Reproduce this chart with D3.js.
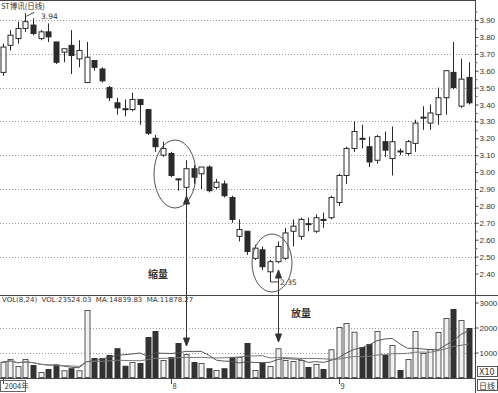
<!DOCTYPE html>
<html><head><meta charset="utf-8">
<script src="https://cdn.jsdelivr.net/npm/d3@7/dist/d3.min.js"></script>
<style>body{margin:0;background:#fff}svg{display:block;font-family:"DejaVu Sans",sans-serif}</style>
</head><body><svg id="c" width="498" height="393"></svg>
<script>
// ---- data ----
const opens  = [3.59,3.75,3.79,3.85,3.87,3.79,3.83,3.77,3.71,3.75,3.67,3.53,3.66,3.61,3.50,3.41,3.375,3.37,3.43,3.37,3.20,3.10,3.11,2.96,2.91,3.02,2.99,3.03,2.91,2.93,2.85,2.62,2.65,2.49,2.54,2.41,2.47,2.49,2.65,2.62,2.695,2.65,2.72,2.73,2.82,2.98,3.14,3.20,3.15,3.07,3.18,3.08,3.125,3.11,3.17,3.32,3.29,3.34,3.44,3.59,3.39,3.56];
const highs  = [3.76,3.84,3.89,3.94,3.91,3.84,3.88,3.77,3.73,3.84,3.78,3.77,3.66,3.62,3.51,3.44,3.43,3.47,3.43,3.37,3.22,3.18,3.12,2.96,3.07,3.04,3.03,3.04,2.96,2.95,2.86,2.72,2.65,2.57,2.56,2.48,2.59,2.67,2.72,2.73,2.73,2.75,2.76,2.86,2.99,3.15,3.30,3.28,3.21,3.22,3.24,3.27,3.14,3.19,3.31,3.39,3.40,3.50,3.60,3.77,3.67,3.65];
const lows   = [3.57,3.72,3.76,3.83,3.81,3.78,3.77,3.64,3.65,3.58,3.62,3.53,3.60,3.53,3.42,3.34,3.33,3.36,3.28,3.22,3.12,3.09,2.97,2.89,2.85,2.93,2.90,2.88,2.90,2.85,2.70,2.59,2.51,2.48,2.42,2.35,2.46,2.48,2.56,2.60,2.65,2.64,2.67,2.72,2.80,2.93,3.12,3.14,3.03,3.05,3.09,2.98,3.10,3.10,3.12,3.25,3.25,3.28,3.34,3.49,3.38,3.40];
const closes = [3.74,3.81,3.85,3.89,3.82,3.83,3.80,3.65,3.73,3.69,3.72,3.68,3.62,3.54,3.44,3.38,3.37,3.43,3.40,3.23,3.15,3.14,2.98,2.955,3.02,2.97,3.03,2.89,2.94,2.86,2.72,2.66,2.53,2.55,2.44,2.47,2.56,2.64,2.68,2.72,2.69,2.73,2.715,2.85,2.98,3.14,3.24,3.195,3.06,3.21,3.13,3.18,3.12,3.18,3.29,3.325,3.35,3.44,3.60,3.50,3.55,3.41];
const volumes = [610,720,440,720,480,200,320,500,270,350,270,2680,760,760,880,1150,450,600,560,1600,1840,680,800,1360,920,600,560,350,280,350,800,800,1360,280,560,440,1150,680,640,680,400,520,320,1110,2000,2160,1810,1200,1320,1840,880,1280,280,720,1840,960,1120,1800,2360,2720,2280,1960];
const priceTicks = ["2.40","2.50","2.60","2.70","2.80","2.90","3.00","3.10","3.20","3.30","3.40","3.50","3.60","3.70","3.80","3.90"];
const gridPrices = [2.50,2.70,2.90,3.10,3.30,3.50,3.70,3.90];
const volTicks = [1000,2000,3000];
const monthLabels = [{i:0,t:"2004年"},{i:22,t:"8"},{i:44,t:"9"}];
const title = "ST博讯(日线)";
const volText = "VOL(8,24)  VOL:23524.03  MA:14839.83  MA:11878.27";

const svg = d3.select("#c");
const idx = d3.range(opens.length);
const x = d3.scalePoint().domain(idx).range([2.5, 468.7]);
const y = d3.scaleLinear().domain([2.40, 3.90]).range([273.5, 20]);
const yv = d3.scaleLinear().domain([0, 3000]).range([377.5, 302.5]);
const AX = 475.5;
const ink = "#2a2a2a";

// frame lines
const frame = svg.append("g").attr("stroke", "#444").attr("stroke-width", 1);
frame.append("line").attr("x1",0).attr("x2",AX).attr("y1",0.5).attr("y2",0.5);
frame.append("line").attr("x1",AX).attr("x2",AX).attr("y1",0).attr("y2",393);
frame.append("line").attr("x1",0).attr("x2",498).attr("y1",295.5).attr("y2",295.5);
frame.append("line").attr("x1",0).attr("x2",AX).attr("y1",378.5).attr("y2",378.5);

// grid
svg.append("g").selectAll("line").data(gridPrices).join("line")
  .attr("x1",0).attr("x2",AX).attr("y1",d=>Math.round(y(d))+0.5).attr("y2",d=>Math.round(y(d))+0.5)
  .attr("stroke","#999").attr("stroke-dasharray","1,2");
svg.append("g").selectAll("line").data([1000,2000]).join("line")
  .attr("x1",0).attr("x2",AX).attr("y1",d=>Math.round(yv(d))+0.5).attr("y2",d=>Math.round(yv(d))+0.5)
  .attr("stroke","#999").attr("stroke-dasharray","1,2");

// right price axis
const pAxis = d3.axisRight(y).tickValues(priceTicks.map(Number)).tickFormat(d3.format(".2f")).tickSize(3);
const gp = svg.append("g").attr("transform",`translate(${AX},0)`).call(pAxis);
gp.select(".domain").remove();
gp.selectAll("text").attr("font-size",8).attr("fill","#333").attr("x",4);
gp.selectAll("line").attr("stroke","#444");
const minor = d3.axisRight(y).tickValues(priceTicks.map(d=>+d+0.05).filter(d=>d<3.95)).tickFormat("").tickSize(2);
svg.append("g").attr("transform",`translate(${AX},0)`).call(minor).call(g=>g.select(".domain").remove()).selectAll("line").attr("stroke","#666");

// volume axis
const vAxis = d3.axisRight(yv).tickValues(volTicks).tickFormat(d3.format("d")).tickSize(3);
const gv = svg.append("g").attr("transform",`translate(${AX},0)`).call(vAxis);
gv.select(".domain").remove();
gv.selectAll("text").attr("font-size",8).attr("fill","#333").attr("x",4);
gv.selectAll("line").attr("stroke","#444");

// candles
const up = i => closes[i] >= opens[i];
const cg = svg.append("g");
cg.selectAll("line").data(idx).join("line")
  .attr("x1",i=>Math.round(x(i))+0.5).attr("x2",i=>Math.round(x(i))+0.5)
  .attr("y1",i=>y(highs[i])).attr("y2",i=>y(lows[i]))
  .attr("stroke",ink).attr("stroke-width",1);
cg.selectAll("rect").data(idx).join("rect")
  .attr("x",i=>Math.round(x(i))-2).attr("width",5)
  .attr("y",i=>y(Math.max(opens[i],closes[i])))
  .attr("height",i=>Math.max(1,Math.abs(y(opens[i])-y(closes[i]))))
  .attr("fill",i=>up(i)?"#fff":ink).attr("stroke",ink).attr("stroke-width",1);

// volume bars
svg.append("g").selectAll("rect").data(idx).join("rect")
  .attr("x",i=>Math.round(x(i))-2).attr("width",5)
  .attr("y",i=>yv(volumes[i])).attr("height",i=>yv(0)-yv(volumes[i]))
  .attr("fill",i=>up(i)?"#f2f2f2":"#333").attr("stroke",i=>up(i)?"#555":"#333").attr("stroke-width",1);

// volume moving averages
function ma(n){ return idx.map(i=>d3.mean(volumes.slice(Math.max(0,i-n+1), i+1))); }
const lineV = d3.line().x((d,i)=>x(i)).y(d=>yv(d));
svg.append("path").datum(ma(8)).attr("d",lineV).attr("fill","none").attr("stroke","#555").attr("stroke-width",1);
svg.append("path").datum(ma(24)).attr("d",lineV).attr("fill","none").attr("stroke","#777").attr("stroke-width",1);

// texts
svg.append("text").attr("x",1).attr("y",8.5).attr("font-size",7.5).attr("fill","#333")
  .attr("font-family","Noto Sans CJK SC").text(title);
svg.append("text").attr("x",2).attr("y",302).attr("font-size",7).attr("fill","#333").attr("xml:space","preserve")
  .style("white-space","pre").text(volText);
// high marker 3.94
const hi = d3.maxIndex(highs);
svg.append("polyline").attr("points",`${x(hi)+1},${y(highs[hi])+3} ${x(hi)+9},${y(highs[hi])-1}`)
  .attr("stroke","#444").attr("fill","none");
svg.append("text").attr("x",41).attr("y",19).attr("font-size",7.5).attr("fill","#333").text(d3.format(".2f")(highs[hi]));
// low marker 2.35
const lo = d3.minIndex(lows);
svg.append("line").attr("x1",x(lo)+1).attr("x2",x(lo)+8).attr("y1",y(lows[lo])).attr("y2",y(lows[lo])).attr("stroke","#444");
svg.append("text").attr("x",x(lo)+10).attr("y",y(lows[lo])+3).attr("font-size",7.5).attr("fill","#333").text(d3.format(".2f")(lows[lo]));

// ellipses
svg.append("ellipse").attr("cx",175).attr("cy",174).attr("rx",21).attr("ry",34).attr("fill","none").attr("stroke","#555");
svg.append("ellipse").attr("cx",272).attr("cy",263).attr("rx",20).attr("ry",29).attr("fill","none").attr("stroke","#555");

// double arrows
function arrow(xp, y1, y2){
  const g = svg.append("g").attr("stroke","#333").attr("fill","#333");
  g.append("line").attr("x1",xp).attr("x2",xp).attr("y1",y1).attr("y2",y2);
  g.append("path").attr("d",`M${xp},${y1} l-3,8 l6,0 z`);
  g.append("path").attr("d",`M${xp},${y2} l-3,-8 l6,0 z`);
}
arrow(186.5, 196, 346);
arrow(278.5, 270, 342);

svg.append("text").attr("x",148).attr("y",278).attr("font-size",10).attr("font-weight","bold")
  .attr("font-family","Noto Sans CJK SC").attr("fill","#333").text("缩量");
svg.append("text").attr("x",291).attr("y",317).attr("font-size",10).attr("font-weight","bold")
  .attr("font-family","Noto Sans CJK SC").attr("fill","#333").text("放量");

// x axis labels
const xl = svg.append("g");
monthLabels.forEach(m=>{
  const xp = Math.round(x(m.i))+0.5;
  xl.append("line").attr("x1",xp).attr("x2",xp).attr("y1",378).attr("y2",384).attr("stroke","#444");
  xl.append("text").attr("x",xp+1).attr("y",389).attr("font-size",7.5).attr("fill","#333")
    .attr("font-family","Noto Sans CJK SC").text(m.t);
});
xl.append("rect").attr("x",0.5).attr("y",380.5).attr("width",25).attr("height",11).attr("fill","none").attr("stroke","#666");

// right bottom boxes
svg.append("rect").attr("x",477.5).attr("y",366.5).attr("width",20).attr("height",10).attr("fill","none").attr("stroke","#555");
svg.append("text").attr("x",479).attr("y",375).attr("font-size",8).attr("fill","#333").text("X10");
svg.append("rect").attr("x",477.5).attr("y",379.5).attr("width",20).attr("height",11).attr("fill","none").attr("stroke","#555");
svg.append("text").attr("x",479).attr("y",389).attr("font-size",8).attr("font-family","Noto Sans CJK SC").attr("fill","#333").text("日线");
</script></body></html>
